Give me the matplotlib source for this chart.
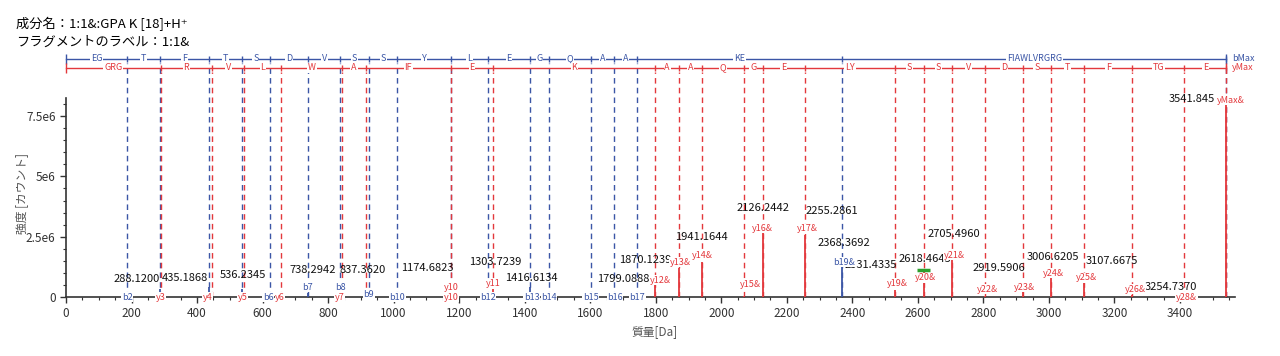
import matplotlib
matplotlib.use('Agg')
import matplotlib.pyplot as plt
from matplotlib.ticker import MultipleLocator, FixedLocator, FuncFormatter

plt.rcParams['font.family'] = ['Noto Sans CJK JP', 'DejaVu Sans']

# --- header text ---
title_lines = ['成分名：1:1&:GPA K [18]+H⁺', 'フラグメントのラベル：1:1&']
xlabel = '質量[Da]'
ylabel = '強度 [カウント]'

# --- theoretical fragment positions (Da) and residues between cuts ---
b_mz = [187.07, 288.12, 435.19, 536.23, 623.27, 738.29, 837.36, 924.39, 1011.43,
        1174.49, 1287.57, 1416.61, 1473.64, 1601.70, 1672.73, 1743.77, 2368.37, 3541.85]
b_seg = ['EG', 'T', 'F', 'T', 'S', 'D', 'V', 'S', 'S', 'Y', 'L', 'E', 'G', 'Q', 'A', 'A',
         'KE', 'FIAWLVRGRG']
y_mz = [289.16, 445.26, 544.33, 657.41, 843.49, 914.53, 1174.68, 1303.72, 1799.09, 1870.12,
        1941.16, 2069.40, 2126.24, 2255.29, 2531.43, 2618.46, 2705.50, 2804.60, 2919.59,
        3006.62, 3107.67, 3254.74, 3412.90, 3541.85]
y_seg = ['GRG', 'R', 'V', 'L', 'W', 'A', 'IF', 'E', 'K', 'A', 'A', 'Q', 'G', 'E', 'LY', 'S',
         'S', 'V', 'D', 'S', 'T', 'F', 'TG', 'E']

# --- observed peaks ---
pk_mz = [187.07, 288.12, 289.16, 435.19, 445.26, 536.23, 544.33, 623.27, 657.41, 738.29,
         837.36, 843.49, 924.39, 1011.43, 1174.68, 1287.57, 1303.72, 1416.61, 1473.64,
         1601.70, 1672.73, 1743.77, 1799.09, 1870.12, 1941.16, 2069.40, 2126.24, 2255.29,
         2368.37, 2531.43, 2618.46, 2705.50, 2804.60, 2919.59, 3006.62, 3107.67, 3254.74,
         3412.90, 3541.85]
pk_int = [0.03e6, 0.35e6, 0.03e6, 0.40e6, 0.03e6, 0.35e6, 0.03e6, 0.03e6, 0.03e6, 0.15e6,
          0.15e6, 0.03e6, 0.05e6, 0.03e6, 0.20e6, 0.03e6, 0.40e6, 0.40e6, 0.03e6,
          0.03e6, 0.03e6, 0.03e6, 0.55e6, 1.20e6, 1.45e6, 0.05e6, 2.65e6, 2.57e6,
          1.24e6, 0.30e6, 1.12e6, 1.62e6, 0.05e6, 0.60e6, 0.83e6, 0.90e6, 0.10e6,
          0.03e6, 8.10e6]
pk_kind = ['b', 'b', 'y', 'b', 'y', 'b', 'y', 'b', 'y', 'b',
           'b', 'y', 'b', 'b', 'y', 'b', 'y', 'b', 'b',
           'b', 'b', 'b', 'y', 'y', 'y', 'y', 'y', 'y',
           'b', 'y', 'y', 'y', 'y', 'y', 'y', 'y', 'y',
           'y', 'y']
marker_mz = [2618.46]
marker_int = [1.12e6]

# --- ion labels (text, type) and where they sit ---
ion_txt = ['b2', 'y3', 'y4', 'y5', 'b6', 'y6', 'b7', 'b8', 'y7', 'b9', 'b10', 'y10', 'y10',
           'b12', 'y11', 'b13', 'b14', 'b15', 'b16', 'b17', 'y12&', 'y13&', 'y14&', 'y15&',
           'y16&', 'y17&', 'b19&', 'y19&', 'y20&', 'y21&', 'y22&', 'y23&', 'y24&', 'y25&',
           'y26&', 'y28&']
ion_x = [187, 289, 433, 540, 617, 653, 738, 837, 836, 924, 1011, 1175, 1175,
         1288, 1304, 1422, 1474, 1602, 1676, 1744, 1813, 1874, 1941, 2088,
         2126, 2262, 2376, 2537, 2624, 2711, 2813, 2926, 3014, 3115,
         3263, 3420]
ion_y = [0, 0, 0, 0, 0, 0, 0.41e6, 0.41e6, 0, 0.12e6, 0, 0.41e6, 0,
         0, 0.54e6, 0, 0, 0, 0, 0, 0.70e6, 1.45e6, 1.70e6, 0.50e6,
         2.86e6, 2.82e6, 1.45e6, 0.58e6, 0.79e6, 1.74e6, 0.33e6, 0.41e6, 0.99e6, 0.79e6,
         0.33e6, 0]

# --- m/z labels and where they sit ---
mz_txt = ['288.1200', '435.1868', '536.2345', '738.2942', '837.3620', '1174.6823',
          '1303.7239', '1416.6134', '1799.0888', '1870.1239', '1941.1644', '2126.2442',
          '2255.2861', '2368.3692', '2531.4335', '2618.4645', '2705.4960', '2919.5906',
          '3006.6205', '3107.6675', '3254.7370', '3541.845']
mz_x = [217, 363, 540, 754, 906, 1102, 1310, 1420, 1701, 1767, 1941, 2126,
        2337, 2375, 2457, 2621, 2711, 2846, 3011, 3191, 3373, 3436]
mz_y = [0.75e6, 0.79e6, 0.91e6, 1.12e6, 1.12e6, 1.20e6, 1.45e6, 0.79e6, 0.75e6, 1.53e6,
        2.49e6, 3.69e6, 3.56e6, 2.24e6, 1.33e6, 1.57e6, 2.62e6, 1.20e6, 1.66e6, 1.49e6,
        0.41e6, 8.20e6]

BLUE = '#3b56a6'
RED = '#e3383c'
col = {'b': BLUE, 'y': RED}

fig = plt.figure(figsize=(12.8, 3.56), dpi=100)
ax = fig.add_axes([66 / 1280, 59 / 356, 1169 / 1280, 199 / 356])
ax.set_xlim(0, 3568)
ax.set_ylim(0, 8.25e6)
trans = ax.get_xaxis_transform()

# dashed lines for every theoretical fragment
ax.vlines(b_mz, 0, 1.175, transform=trans, colors=BLUE, linestyles=(0, (4, 3)),
          lw=1, clip_on=False, zorder=1)
ax.vlines(y_mz, 0, 1.13, transform=trans, colors=RED, linestyles=(0, (4, 3)),
          lw=1, clip_on=False, zorder=1)

# sequence bars above the plot
for row_y, cuts, segs, c, end_lab in [(1.196, b_mz, b_seg, BLUE, 'bMax'),
                                      (1.151, y_mz, y_seg, RED, 'yMax')]:
    ax.plot([0, cuts[-1]], [row_y, row_y], transform=trans, color=c, lw=1,
            clip_on=False, zorder=2)
    ax.vlines([0, cuts[-1]], row_y - 0.025, row_y + 0.025, transform=trans, colors=c,
              lw=1, clip_on=False, zorder=2)
    ax.vlines(cuts, row_y - 0.015, row_y + 0.015, transform=trans, colors=c,
              lw=1, clip_on=False, zorder=2)
    edges = [0] + cuts
    for i, s in enumerate(segs):
        ax.text((edges[i] + edges[i + 1]) / 2, row_y, s, transform=trans, ha='center',
                va='center', fontsize=6.5, color=c, zorder=3, clip_on=False,
                bbox=dict(fc='white', ec='none', pad=0.6))
    ax.text(cuts[-1] + 18, row_y, end_lab, transform=trans, ha='left', va='center',
            fontsize=6.5, color=c, clip_on=False)

# observed peaks
ax.vlines(pk_mz, 0, pk_int, colors=[col[k] for k in pk_kind], lw=1.3, zorder=3)
for m, v in zip(marker_mz, marker_int):
    ax.hlines(v, m - 20, m + 20, colors='#2ca02c', lw=2.5, zorder=4)

# m/z labels
for t, x, y in zip(mz_txt, mz_x, mz_y):
    ax.text(x, y, t, ha='center', va='center', fontsize=8, color='#111111', zorder=4)

# ion labels
for t, x, y in zip(ion_txt, ion_x, ion_y):
    ax.text(x, y, t, ha='center', va='center', fontsize=6.5, color=col[t[0]], zorder=6,
            bbox=dict(fc='white', ec='none', pad=0.4))
ax.text(3513, 8.15e6, 'yMax&', ha='left', va='center', fontsize=6.5, color=RED, zorder=6,
        bbox=dict(fc='white', ec='none', pad=0.3))

# axes styling
for s in ['top', 'right']:
    ax.spines[s].set_visible(False)
for s in ['left', 'bottom']:
    ax.spines[s].set_color('#333333')
    ax.spines[s].set_linewidth(1.2)
ax.xaxis.set_major_locator(MultipleLocator(200))
ax.xaxis.set_minor_locator(MultipleLocator(50))
ax.yaxis.set_major_locator(FixedLocator([0, 2.5e6, 5e6, 7.5e6]))
ax.yaxis.set_minor_locator(MultipleLocator(0.5e6))
ax.yaxis.set_major_formatter(FuncFormatter(lambda v, p: '0' if v == 0 else f'{v / 1e6:g}e6'))
ax.tick_params(which='major', direction='out', length=4, width=1, labelsize=8.5,
               colors='#333333')
ax.tick_params(which='minor', direction='out', length=2.5, width=0.8, colors='#333333')

fig.text(22 / 1280, 1 - 193 / 356, ylabel, rotation=90, ha='center', va='center',
         fontsize=8.5, color='#555555')
fig.text(655 / 1280, 1 - 332 / 356, xlabel, ha='center', va='center', fontsize=8.5,
         color='#555555')
fig.text(16 / 1280, 1 - 24 / 356, title_lines[0], ha='left', va='center', fontsize=9.5)
fig.text(16 / 1280, 1 - 42 / 356, title_lines[1], ha='left', va='center', fontsize=9.5)

fig.savefig('out.png', dpi=100)
